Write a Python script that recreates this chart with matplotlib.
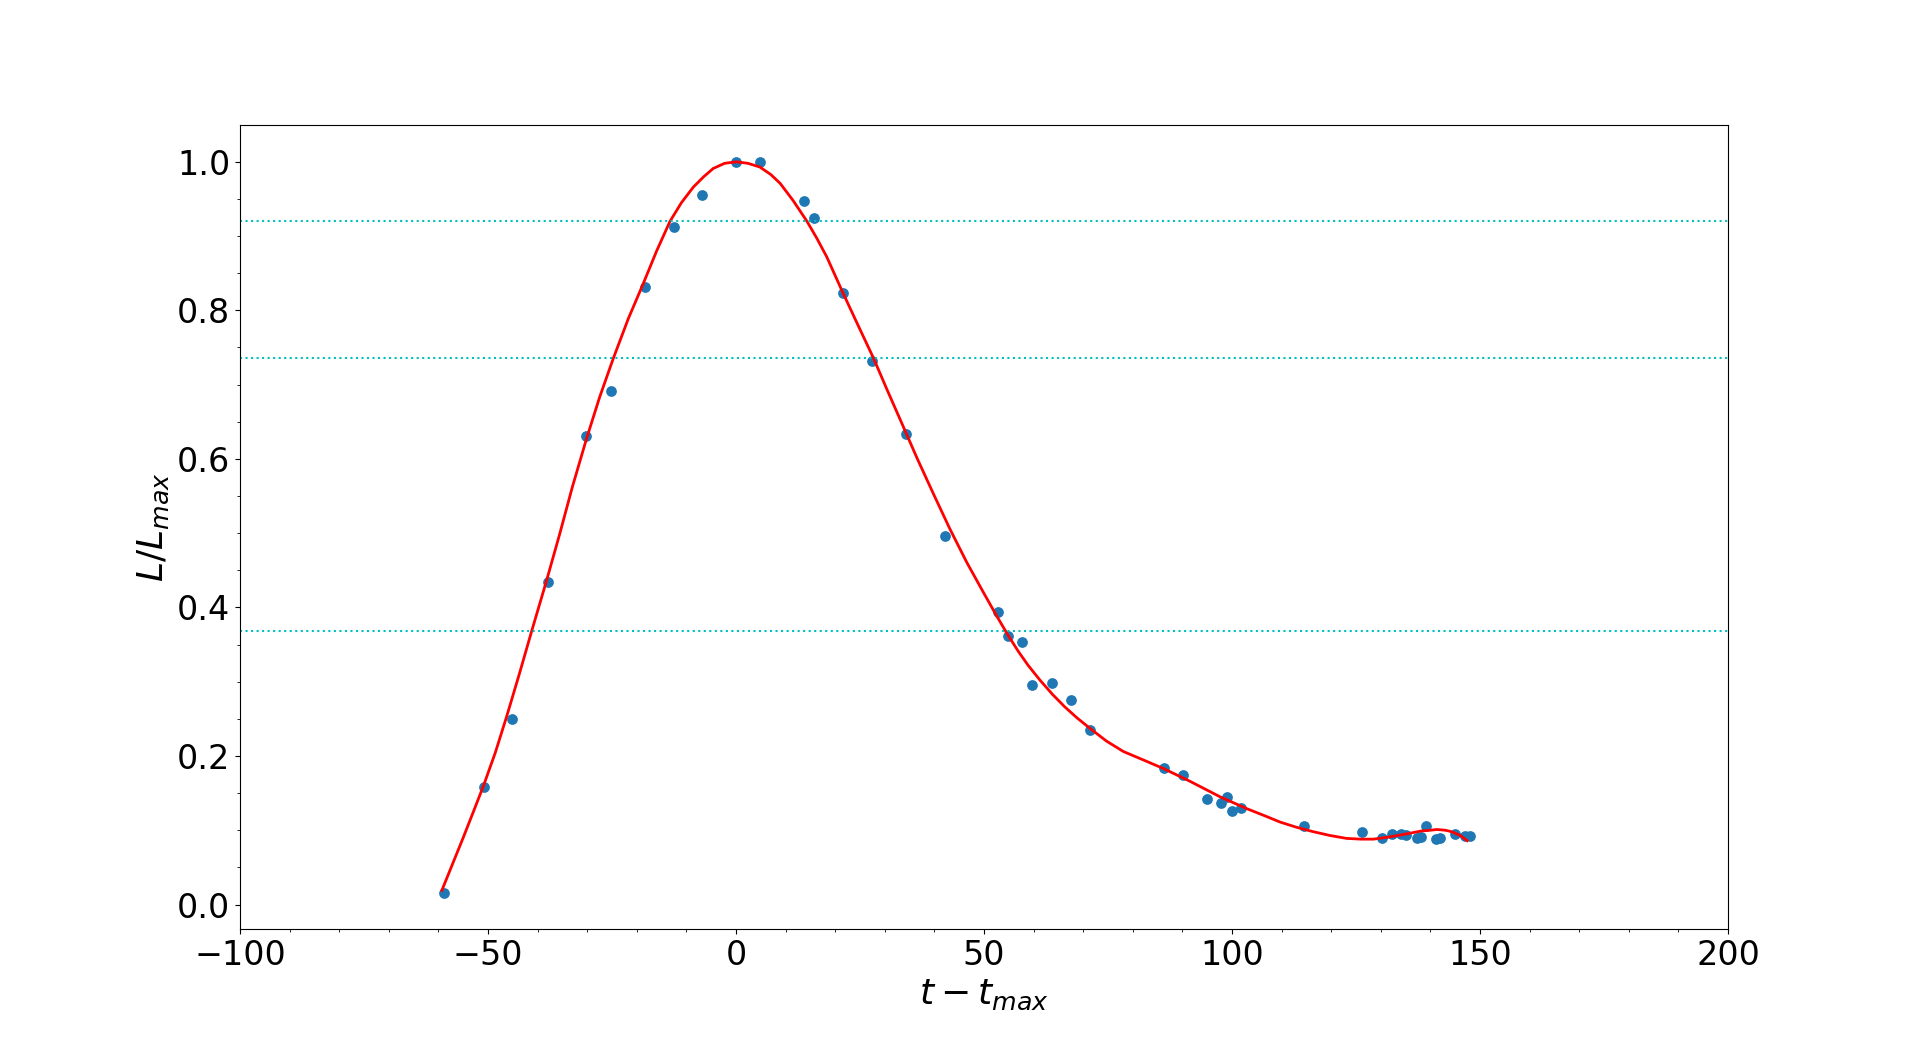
import matplotlib.pyplot as plt

# Observed light-curve points (time from maximum, normalised luminosity).
t_obs = [-58.8, -50.9, -45.1, -38.0, -30.2, -25.3, -18.4, -12.6, -6.8, 0.0,
         4.9, 13.8, 15.8, 21.6, 27.5, 34.3, 42.2, 52.9, 54.9, 57.7,
         59.7, 63.8, 67.6, 71.4, 86.2, 90.2, 95.0, 97.8, 98.9, 99.9,
         101.9, 114.6, 126.3, 130.3, 132.3, 134.1, 135.1, 137.2, 138.2, 139.2,
         141.1, 142.0, 145.0, 147.0, 148.0]
L_obs = [0.016, 0.158, 0.250, 0.434, 0.631, 0.691, 0.831, 0.912, 0.955, 1.000,
         1.000, 0.947, 0.924, 0.824, 0.732, 0.633, 0.496, 0.394, 0.362, 0.354,
         0.295, 0.298, 0.276, 0.235, 0.184, 0.174, 0.142, 0.136, 0.145, 0.126,
         0.130, 0.106, 0.097, 0.089, 0.095, 0.095, 0.093, 0.089, 0.091, 0.106,
         0.088, 0.090, 0.095, 0.092, 0.092]

# Fitted curve.
t_fit = [-59.3, -57.0, -55.0, -53.0, -50.9, -48.5, -46.2, -43.7, -41.2, -38.2,
         -35.5, -33.0, -30.1, -27.5, -24.7, -21.7, -18.7, -16.0, -13.3, -11.0,
         -8.6, -6.5, -4.6, -2.3, 0.1, 2.4, 4.8, 7.0, 8.9, 11.5,
         14.3, 16.3, 18.3, 21.6, 24.6, 27.7, 30.4, 33.1, 36.5, 39.8,
         43.1, 46.5, 49.9, 52.6, 54.9, 57.0, 58.9, 61.3, 63.8, 66.3,
         68.8, 71.4, 74.7, 78.1, 82.0, 86.2, 91.5, 97.6, 103.0, 106.4,
         109.7, 113.0, 116.4, 119.7, 123.1, 126.0, 128.5, 131.8, 135.1, 138.2,
         140.0, 141.3, 143.0, 144.3, 146.0, 147.4]
L_fit = [0.019, 0.057, 0.090, 0.124, 0.160, 0.205, 0.254, 0.310, 0.368, 0.436,
         0.500, 0.562, 0.628, 0.683, 0.736, 0.789, 0.836, 0.880, 0.920, 0.945,
         0.966, 0.980, 0.991, 0.998, 1.000, 0.998, 0.993, 0.983, 0.971, 0.948,
         0.920, 0.897, 0.872, 0.823, 0.780, 0.736, 0.694, 0.653, 0.601, 0.553,
         0.506, 0.461, 0.420, 0.388, 0.362, 0.340, 0.322, 0.302, 0.283, 0.266,
         0.251, 0.237, 0.220, 0.206, 0.195, 0.183, 0.166, 0.145, 0.129, 0.120,
         0.111, 0.104, 0.098, 0.093, 0.089, 0.088, 0.088, 0.091, 0.095, 0.099,
         0.100, 0.101, 0.100, 0.098, 0.093, 0.086]

# Reference luminosity levels (horizontal guides).
levels = [0.92, 0.736, 0.368]

fig, ax = plt.subplots(figsize=(19.2, 10.44), dpi=100)

ax.scatter(t_obs, L_obs, s=45)
ax.plot(t_fit, L_fit, color="r", linewidth=2)
for lev in levels:
    ax.axhline(lev, color="c", linestyle=":", linewidth=1.5)

ax.set_xlim(-100, 200)
ax.minorticks_on()
ax.tick_params(axis="both", which="major", labelsize=24)

ax.set_xlabel(r"$t - t_{max}$", fontsize=26)
ax.set_ylabel(r"$L/L_{max}$", fontsize=26)

fig.savefig("out.png", dpi=100)
plt.close(fig)
